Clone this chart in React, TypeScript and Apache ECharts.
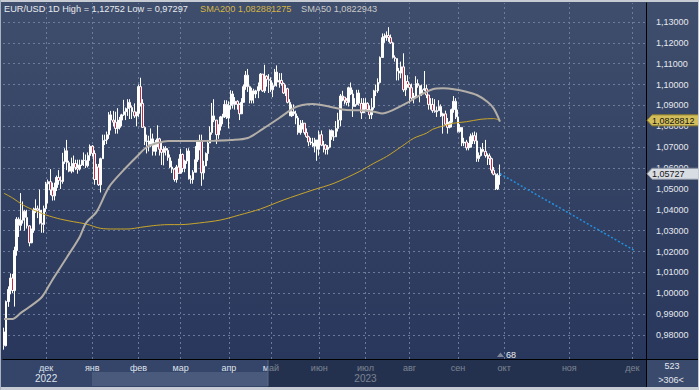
import { useEffect, useRef } from 'react';
import * as echarts from 'echarts';

// ---------- DATA ----------
const MONTH_NAMES = ['янв', 'фев', 'мар', 'апр', 'май', 'июн', 'июл', 'авг', 'сен', 'окт', 'ноя', 'дек'];
const SYMBOL = 'EUR/USD';
const PERIOD = '1D';

// daily bars [open, high, low, close], one array per month (weekdays)
const nov22 = [
  [0.9815, 0.9835, 0.97297, 0.9749], [0.9749, 0.9965, 0.9745, 0.996], [0.996, 1.0033, 0.9935, 1.0018],
  [1.0018, 1.0095, 0.9995, 1.0073], [1.0073, 1.0093, 1.0, 1.0013], [1.0013, 1.0223, 0.9936, 1.0205],
  [1.0205, 1.0365, 1.018, 1.0355], [1.0355, 1.0364, 1.027, 1.0325], [1.0325, 1.048, 1.03, 1.035],
  [1.035, 1.044, 1.0334, 1.0393], [1.0393, 1.04, 1.03, 1.0363], [1.0363, 1.04, 1.031, 1.0323],
  [1.0323, 1.0325, 1.0225, 1.0242], [1.0242, 1.031, 1.024, 1.0302], [1.0302, 1.041, 1.029, 1.0397],
  [1.0397, 1.045, 1.0385, 1.0405], [1.0405, 1.042, 1.036, 1.0398], [1.0398, 1.0497, 1.033, 1.0336],
  [1.0336, 1.04, 1.029, 1.033], [1.033, 1.042, 1.029, 1.0406],
];
const dec22 = [
  [1.0406, 1.0534, 1.039, 1.0524], [1.0524, 1.0545, 1.043, 1.0535], [1.0535, 1.0595, 1.047, 1.0495],
  [1.0495, 1.053, 1.0444, 1.0467], [1.0467, 1.053, 1.0445, 1.0507], [1.0507, 1.0564, 1.049, 1.0555],
  [1.0555, 1.059, 1.052, 1.054], [1.054, 1.056, 1.05, 1.0536], [1.0536, 1.0673, 1.0525, 1.063],
  [1.063, 1.0695, 1.062, 1.0683], [1.0683, 1.0735, 1.059, 1.0626], [1.0626, 1.0635, 1.058, 1.0585],
  [1.0585, 1.065, 1.0575, 1.0607], [1.0607, 1.066, 1.058, 1.0622], [1.0622, 1.064, 1.059, 1.0603],
  [1.0603, 1.064, 1.0573, 1.0595], [1.0595, 1.064, 1.0588, 1.0615], [1.0615, 1.064, 1.061, 1.0637],
  [1.0637, 1.0675, 1.061, 1.0636], [1.0636, 1.0665, 1.06, 1.0611], [1.0611, 1.0675, 1.0603, 1.066],
  [1.066, 1.0713, 1.0635, 1.0705],
];
const jan23 = [
  [1.0705, 1.071, 1.0655, 1.067], [1.067, 1.0685, 1.052, 1.0545], [1.0545, 1.062, 1.0545, 1.0605],
  [1.0605, 1.062, 1.0515, 1.052], [1.052, 1.065, 1.0483, 1.0645], [1.0645, 1.076, 1.0645, 1.0732],
  [1.0732, 1.076, 1.071, 1.0735], [1.0735, 1.0775, 1.0715, 1.076], [1.076, 1.0868, 1.074, 1.0855],
  [1.0855, 1.0874, 1.078, 1.083], [1.083, 1.0874, 1.08, 1.082], [1.082, 1.087, 1.0765, 1.079],
  [1.079, 1.0887, 1.0765, 1.0795], [1.0795, 1.0845, 1.0785, 1.083], [1.083, 1.086, 1.08, 1.0855],
  [1.0855, 1.0927, 1.085, 1.087], [1.087, 1.089, 1.083, 1.0885], [1.0885, 1.093, 1.085, 1.0915],
  [1.0915, 1.093, 1.0835, 1.089], [1.089, 1.09, 1.0835, 1.087], [1.087, 1.091, 1.084, 1.085],
  [1.085, 1.087, 1.08, 1.0862],
];
const feb23 = [
  [1.0862, 1.1, 1.0845, 1.099], [1.099, 1.1033, 1.0895, 1.091], [1.091, 1.093, 1.0795, 1.0795],
  [1.0795, 1.08, 1.071, 1.0727], [1.0727, 1.076, 1.067, 1.073], [1.073, 1.0755, 1.068, 1.0713],
  [1.0713, 1.079, 1.07, 1.074], [1.074, 1.0765, 1.066, 1.068], [1.068, 1.0735, 1.066, 1.0722],
  [1.0722, 1.0805, 1.07, 1.074], [1.074, 1.0745, 1.066, 1.069], [1.069, 1.072, 1.0615, 1.0675],
  [1.0675, 1.0705, 1.0613, 1.0695], [1.0695, 1.0705, 1.066, 1.0685], [1.0685, 1.0695, 1.0635, 1.065],
  [1.065, 1.0665, 1.06, 1.0605], [1.0605, 1.0635, 1.0576, 1.0595], [1.0595, 1.06, 1.0535, 1.0545],
  [1.0545, 1.0615, 1.053, 1.0605], [1.0605, 1.0645, 1.0575, 1.0575],
];
const mar23 = [
  [1.0575, 1.0691, 1.0575, 1.0665], [1.0665, 1.067, 1.058, 1.0598], [1.0598, 1.064, 1.058, 1.0634],
  [1.0634, 1.0695, 1.062, 1.0682], [1.0682, 1.0695, 1.0545, 1.0548], [1.0548, 1.0565, 1.0525, 1.0545],
  [1.0545, 1.059, 1.0525, 1.058], [1.058, 1.0705, 1.058, 1.064], [1.064, 1.0735, 1.063, 1.073],
  [1.073, 1.076, 1.0685, 1.073], [1.073, 1.076, 1.0515, 1.0577], [1.0577, 1.0635, 1.0545, 1.061],
  [1.061, 1.0675, 1.061, 1.067], [1.067, 1.0735, 1.0635, 1.072], [1.072, 1.08, 1.072, 1.077],
  [1.077, 1.0912, 1.076, 1.085], [1.085, 1.093, 1.082, 1.083], [1.083, 1.083, 1.0715, 1.076],
  [1.076, 1.081, 1.074, 1.08], [1.08, 1.085, 1.078, 1.0845], [1.0845, 1.086, 1.081, 1.0845],
  [1.0845, 1.0925, 1.084, 1.0905], [1.0905, 1.0925, 1.0835, 1.084],
];
const apr23 = [
  [1.084, 1.092, 1.079, 1.09], [1.09, 1.0973, 1.088, 1.0955], [1.0955, 1.097, 1.0885, 1.0905],
  [1.0905, 1.094, 1.088, 1.092], [1.092, 1.0925, 1.088, 1.0905], [1.0905, 1.091, 1.083, 1.086],
  [1.086, 1.0935, 1.086, 1.0915], [1.0915, 1.1, 1.0915, 1.099], [1.099, 1.1065, 1.0975, 1.1045],
  [1.1045, 1.1075, 1.0965, 1.099], [1.099, 1.0995, 1.091, 1.0925], [1.0925, 1.0985, 1.091, 1.097],
  [1.097, 1.098, 1.091, 1.0955], [1.0955, 1.0975, 1.0935, 1.097], [1.097, 1.101, 1.0935, 1.099],
  [1.099, 1.1055, 1.0975, 1.105], [1.105, 1.105, 1.0965, 1.097], [1.097, 1.1095, 1.096, 1.104],
  [1.104, 1.1045, 1.099, 1.1025], [1.1025, 1.105, 1.096, 1.102],
];
const may23 = [
  [1.102, 1.1035, 1.0965, 1.0975], [1.0975, 1.101, 1.094, 1.0995], [1.0995, 1.1075, 1.099, 1.106],
  [1.106, 1.1092, 1.099, 1.1012], [1.1012, 1.1055, 1.0985, 1.102], [1.102, 1.1055, 1.0995, 1.1005],
  [1.1005, 1.101, 1.0955, 1.096], [1.096, 1.1, 1.0945, 1.098], [1.098, 1.0985, 1.091, 1.0915],
  [1.0915, 1.093, 1.085, 1.085], [1.085, 1.0905, 1.0845, 1.087], [1.087, 1.0905, 1.085, 1.086],
  [1.086, 1.0875, 1.081, 1.084], [1.084, 1.085, 1.076, 1.077], [1.077, 1.083, 1.076, 1.0805],
  [1.0805, 1.083, 1.0785, 1.0815], [1.0815, 1.0815, 1.076, 1.077], [1.077, 1.079, 1.0745, 1.075],
  [1.075, 1.0755, 1.0705, 1.0725], [1.0725, 1.0745, 1.071, 1.072], [1.072, 1.0745, 1.07, 1.0705],
  [1.0705, 1.0745, 1.0675, 1.0735], [1.0735, 1.0735, 1.0635, 1.069],
];
const jun23 = [
  [1.069, 1.078, 1.066, 1.076], [1.076, 1.078, 1.0705, 1.071], [1.071, 1.073, 1.0675, 1.071],
  [1.071, 1.0715, 1.0665, 1.069], [1.069, 1.071, 1.0665, 1.07], [1.07, 1.0785, 1.0695, 1.078],
  [1.078, 1.0785, 1.0735, 1.075], [1.075, 1.078, 1.073, 1.075], [1.075, 1.0825, 1.075, 1.079],
  [1.079, 1.0865, 1.0775, 1.083], [1.083, 1.0955, 1.08, 1.0945], [1.0945, 1.097, 1.092, 1.094],
  [1.094, 1.094, 1.0905, 1.0925], [1.0925, 1.0935, 1.09, 1.0915], [1.0915, 1.099, 1.0895, 1.0985],
  [1.0985, 1.101, 1.095, 1.0955], [1.0955, 1.0975, 1.0845, 1.0895], [1.0895, 1.0935, 1.0895, 1.0905],
  [1.0905, 1.0975, 1.09, 1.096], [1.096, 1.0975, 1.09, 1.091], [1.091, 1.0935, 1.0835, 1.0865],
  [1.0865, 1.0935, 1.0865, 1.091],
];
const jul23 = [
  [1.091, 1.0935, 1.088, 1.091], [1.091, 1.0915, 1.0875, 1.088], [1.088, 1.09, 1.0835, 1.0855],
  [1.0855, 1.0935, 1.0835, 1.089], [1.089, 1.0975, 1.088, 1.097], [1.097, 1.1, 1.0945, 1.097],
  [1.097, 1.103, 1.096, 1.101], [1.101, 1.1135, 1.1005, 1.113], [1.113, 1.1245, 1.113, 1.1225],
  [1.1225, 1.1245, 1.12, 1.123], [1.123, 1.1255, 1.121, 1.1235], [1.1235, 1.12752, 1.1205, 1.1225],
  [1.1225, 1.124, 1.1195, 1.12], [1.12, 1.1205, 1.1125, 1.113], [1.113, 1.114, 1.111, 1.1125],
  [1.1125, 1.1125, 1.102, 1.1065], [1.1065, 1.108, 1.102, 1.1055], [1.1055, 1.111, 1.103, 1.1085],
  [1.1085, 1.115, 1.0965, 1.0975], [1.0975, 1.1045, 1.0945, 1.1015], [1.1015, 1.1045, 1.0985, 1.1],
];
const aug23 = [
  [1.1, 1.1005, 1.091, 1.0985], [1.0985, 1.1005, 1.0925, 1.0935], [1.0935, 1.096, 1.091, 1.0945],
  [1.0945, 1.104, 1.094, 1.1005], [1.1005, 1.1025, 1.0985, 1.0995], [1.0995, 1.0995, 1.0915, 1.0955],
  [1.0955, 1.1, 1.0945, 1.0975], [1.0975, 1.1065, 1.097, 1.098], [1.098, 1.1, 1.0935, 1.095],
  [1.095, 1.095, 1.088, 1.0905], [1.0905, 1.0935, 1.088, 1.0905], [1.0905, 1.0935, 1.0865, 1.0875],
  [1.0875, 1.093, 1.0865, 1.087], [1.087, 1.0895, 1.0845, 1.0875], [1.0875, 1.0925, 1.0875, 1.0895],
  [1.0895, 1.0905, 1.0845, 1.085], [1.085, 1.0865, 1.0765, 1.086], [1.086, 1.0875, 1.0805, 1.081],
  [1.081, 1.084, 1.0765, 1.0795], [1.0795, 1.0825, 1.079, 1.082], [1.082, 1.0885, 1.0795, 1.088],
  [1.088, 1.0945, 1.0865, 1.092], [1.092, 1.0935, 1.0835, 1.0845],
];
const sep23 = [
  [1.0845, 1.088, 1.077, 1.0775], [1.0775, 1.081, 1.077, 1.0795], [1.0795, 1.0795, 1.0705, 1.072],
  [1.072, 1.0745, 1.0705, 1.0725], [1.0725, 1.0735, 1.0685, 1.0697], [1.0697, 1.072, 1.0685, 1.07],
  [1.07, 1.0765, 1.07, 1.075], [1.075, 1.077, 1.0715, 1.0755], [1.0755, 1.0775, 1.0715, 1.073],
  [1.073, 1.077, 1.063, 1.0645], [1.0645, 1.0675, 1.063, 1.066], [1.066, 1.07, 1.0655, 1.069],
  [1.069, 1.072, 1.0675, 1.068], [1.068, 1.0735, 1.065, 1.066], [1.066, 1.067, 1.0615, 1.0658],
  [1.0658, 1.067, 1.0615, 1.0645], [1.0645, 1.065, 1.0575, 1.059], [1.059, 1.0605, 1.0565, 1.057],
  [1.057, 1.0575, 1.0495, 1.05], [1.05, 1.0575, 1.0495, 1.0565], [1.0565, 1.0617, 1.052, 1.05727],
];
const barMonths = [nov22, dec22, jan23, feb23, mar23, apr23, may23, jun23, jul23, aug23, sep23];

// moving averages: [date, value]
const sma200Points: [string, number][] = [
  ['2022-11-03', 1.0479], ['2022-11-09', 1.0457], ['2022-11-16', 1.0423], ['2022-11-23', 1.0399],
  ['2022-12-01', 1.0375], ['2022-12-12', 1.0355], ['2022-12-20', 1.0343], ['2022-12-28', 1.0332],
  ['2023-01-06', 1.0311], ['2023-01-16', 1.0308], ['2023-01-25', 1.0308], ['2023-02-02', 1.0316],
  ['2023-02-10', 1.0324], ['2023-02-21', 1.0329], ['2023-03-01', 1.0329], ['2023-03-14', 1.0337],
  ['2023-03-28', 1.0351], ['2023-04-10', 1.0375], ['2023-04-24', 1.0404], ['2023-05-09', 1.0447],
  ['2023-05-29', 1.0495], ['2023-06-12', 1.0527], ['2023-06-28', 1.0583], ['2023-07-07', 1.0623],
  ['2023-07-17', 1.0655], ['2023-07-26', 1.0702], ['2023-08-03', 1.0743], ['2023-08-11', 1.0767],
  ['2023-08-16', 1.0786], ['2023-08-23', 1.0802], ['2023-08-30', 1.0815], ['2023-09-07', 1.0822],
  ['2023-09-18', 1.0834], ['2023-09-26', 1.0837], ['2023-09-29', 1.082881275],
];
const sma50Points: [string, number][] = [
  ['2022-11-03', 0.9877], ['2022-11-09', 0.9877], ['2022-11-15', 0.9906], ['2022-11-21', 0.9934],
  ['2022-11-29', 0.9982], ['2022-12-06', 1.0064], ['2022-12-15', 1.0174], ['2022-12-23', 1.027],
  ['2022-12-28', 1.0337], ['2023-01-04', 1.039], ['2023-01-12', 1.051], ['2023-01-23', 1.0591],
  ['2023-01-31', 1.0653], ['2023-02-07', 1.0701], ['2023-02-14', 1.072], ['2023-02-21', 1.073],
  ['2023-03-01', 1.073], ['2023-03-23', 1.0731], ['2023-04-04', 1.0734], ['2023-04-14', 1.0744],
  ['2023-04-25', 1.0787], ['2023-05-05', 1.084], ['2023-05-16', 1.0888], ['2023-05-22', 1.0902],
  ['2023-05-29', 1.0907], ['2023-06-08', 1.0894], ['2023-06-20', 1.0878], ['2023-06-28', 1.0877],
  ['2023-07-07', 1.087], ['2023-07-13', 1.0862], ['2023-07-20', 1.0878], ['2023-07-31', 1.0913],
  ['2023-08-08', 1.095], ['2023-08-16', 1.0978], ['2023-08-23', 1.0982], ['2023-08-30', 1.0978],
  ['2023-09-07', 1.0966], ['2023-09-14', 1.095], ['2023-09-21', 1.0918], ['2023-09-26', 1.0886],
  ['2023-09-29', 1.0822943],
];
const trendPoints: [string, number][] = [['2023-09-29', 1.05727], ['2023-12-02', 1.0205]];

const priceTicks = [0.98, 0.99, 1.0, 1.01, 1.02, 1.03, 1.04, 1.05, 1.06, 1.07, 1.08, 1.09, 1.1, 1.11, 1.12, 1.13];
const yearMarks: [string, string][] = [['2022-12-01', '2022'], ['2023-07-03', '2023']];
const barCountText = '523';
const visibleBarsText = '>306<';
const markerText = '68';

// ---------- helpers ----------
const iso = (d: Date) => d.toISOString().slice(0, 10);
function buildDates(): string[] {
  const out: string[] = [];
  const d = new Date(Date.UTC(2022, 10, 3));
  const histEnd = Date.UTC(2023, 8, 29);
  const end = Date.UTC(2023, 11, 7);
  while (d.getTime() <= end) {
    const wd = d.getUTCDay();
    if (d.getTime() > histEnd || (wd !== 0 && wd !== 6)) out.push(iso(d));
    d.setUTCDate(d.getUTCDate() + 1);
  }
  return out;
}
const fmt = (v: number, dec: number) => v.toFixed(dec).replace('.', ',');

const FONT = 'Liberation Sans';

export default function App() {
  const ref = useRef<HTMLDivElement>(null);
  useEffect(() => {
    const el = ref.current;
    if (!el) return;
    const chart = echarts.init(el, undefined, { renderer: 'svg' });

    const dates = buildDates();
    const bars = barMonths.flat();
    const candleData = bars.map((b) => [b[0], b[3], b[2], b[1]]);
    const idx = (d: string) => dates.indexOf(d);
    const monthStarts: number[] = [];
    for (let i = 1; i < dates.length; i++) {
      if (dates[i].slice(5, 7) !== dates[i - 1].slice(5, 7)) monthStarts.push(i);
    }
    const monthSet = new Set(monthStarts);
    const yearMap = new Map(yearMarks);

    const hi = Math.max(...bars.map((b) => b[1]));
    const lo = Math.min(...bars.map((b) => b[2]));
    const sma200Last = sma200Points[sma200Points.length - 1][1];
    const sma50Last = sma50Points[sma50Points.length - 1][1];
    const lastClose = bars[bars.length - 1][3];

    const lineColor = '#e4e8ef';

    chart.setOption({
      animation: false,
      backgroundColor: new echarts.graphic.LinearGradient(0, 0, 0, 1, [
        { offset: 0, color: '#3f4e6c' },
        { offset: 1, color: '#26355a' },
      ]),
      grid: { left: 3, right: 53, top: 3, bottom: 31, containLabel: false },
      xAxis: {
        type: 'category',
        data: dates,
        boundaryGap: true,
        z: 10,
        axisLine: { show: true, lineStyle: { color: '#000', width: 1 } },
        axisTick: { show: false },
        splitLine: { show: false },
        axisLabel: {
          interval: (i: number) => monthSet.has(i),
          margin: 3,
          formatter: (v: string, i: number) => {
            if (!monthSet.has(i)) return '';
            const m = MONTH_NAMES[parseInt(v.slice(5, 7), 10) - 1];
            const y = yearMap.get(v);
            return y ? `{m|${m}}\n{y|${y}}` : `{m|${m}}`;
          },
          rich: {
            m: { fontSize: 9, lineHeight: 11, color: '#dfe3eb', fontFamily: FONT },
            y: { fontSize: 10, lineHeight: 11, color: '#dfe3eb', fontFamily: FONT },
          },
        },
      },
      yAxis: {
        type: 'value',
        position: 'right',
        min: 0.9685,
        max: 1.1391,
        splitNumber: 17,
        minInterval: 0.01,
        maxInterval: 0.01,
        axisLine: { show: true, lineStyle: { color: '#000', width: 1 } },
        axisTick: { show: false },
        splitLine: { show: false },
        axisLabel: {
          margin: 10,
          fontSize: 9,
          fontFamily: FONT,
          color: lineColor,
          formatter: (v: number) => (priceTicks.some((t) => Math.abs(t - v) < 1e-6) ? fmt(v, 5) : ''),
        },
      },
      series: [
        {
          type: 'line',
          name: 'grid',
          data: [],
          z: 1,
          silent: true,
          markLine: {
            z: 1,
            silent: true,
            symbol: ['none', 'none'],
            label: { show: false },
            lineStyle: { color: '#7585a3', type: [2, 3], width: 1, opacity: 0.85 },
            emphasis: { disabled: true },
            data: [
              ...priceTicks.map((v) => ({ yAxis: v })),
              ...monthStarts.map((i) => ({ xAxis: i })),
            ],
          },
        },
        {
          type: 'candlestick',
          data: candleData,
          barWidth: 2,
          z: 6,
          itemStyle: {
            color: '#ffffff',
            color0: '#c22a45',
            borderColor: '#ffffff',
            borderColor0: '#ffffff',
            borderWidth: 1,
          },
        },
        {
          type: 'line',
          name: 'SMA200',
          data: sma200Points.map(([d, v]) => [idx(d), v]),
          showSymbol: false,
          smooth: 0.3,
          z: 7,
          lineStyle: { color: '#c9a52a', width: 1 },
        },
        {
          type: 'line',
          name: 'SMA50',
          data: sma50Points.map(([d, v]) => [idx(d), v]),
          showSymbol: false,
          smooth: 0.3,
          z: 7,
          lineStyle: { color: '#b3aea8', width: 2 },
        },
        {
          type: 'line',
          name: 'trend',
          data: trendPoints.map(([d, v]) => [idx(d), v]),
          showSymbol: false,
          z: 7,
          lineStyle: { color: '#2290e0', width: 1.5, type: [2, 2] },
        },
      ],
    });

    const ySma = chart.convertToPixel({ yAxisIndex: 0 }, sma200Last) as number;
    const yClose = chart.convertToPixel({ yAxisIndex: 0 }, lastClose) as number;
    const txt = (id: string, x: number, y: number, text: string, fill: string, size = 9, align = 'left') => ({
      type: 'text',
      id,
      x,
      y,
      z: 40,
      silent: true,
      style: {
        text,
        fill,
        fontSize: size,
        fontFamily: FONT,
        textAlign: align,
        align,
        textVerticalAlign: 'middle',
        verticalAlign: 'middle',
      },
    });
    const tag = (id: string, y: number, fill: string, stroke: string, text: string) => [
      {
        type: 'polygon',
        id: id + 'b',
        z: 40,
        silent: true,
        shape: { points: [[647, y], [652, y - 5.5], [699, y - 5.5], [699, y + 5.5], [652, y + 5.5]] },
        style: { fill, stroke, lineWidth: 1 },
      },
      txt(id + 't', 652, y + 0.5, text, '#151515', 9),
    ];

    chart.setOption({
      graphic: [
        { type: 'rect', id: 'band', z: 1, silent: true, shape: { x: 0, y: 360, width: 646, height: 27 }, style: { fill: '#35456a' } },
        { type: 'rect', id: 'thumb', z: 2, silent: true, shape: { x: 92, y: 372, width: 176, height: 14 }, style: { fill: '#4a5a7c' } },
        { type: 'rect', id: 'shade', z: 20, silent: true, shape: { x: 268, y: 360, width: 378, height: 27 }, style: { fill: 'rgba(20,29,50,0.5)' } },
        { type: 'line', id: 'shadeEdge', z: 21, silent: true, shape: { x1: 268, y1: 360, x2: 268, y2: 386 }, style: { stroke: '#5a6886', lineWidth: 1 } },
        { type: 'rect', id: 'corner', z: 1, silent: true, shape: { x: 647, y: 360, width: 52, height: 27 }, style: { fill: '#3a4a6c' } },
        { type: 'line', id: 'vline', z: 21, silent: true, shape: { x1: 646.5, y1: 359, x2: 646.5, y2: 388 }, style: { stroke: '#000', lineWidth: 1 } },
        { type: 'line', id: 'hline', z: 21, silent: true, shape: { x1: 646, y1: 359.5, x2: 699, y2: 359.5 }, style: { stroke: '#000', lineWidth: 1 } },
        { type: 'rect', id: 'fTop', z: 45, silent: true, shape: { x: 0, y: 0, width: 699, height: 2 }, style: { fill: '#c6cbd4' } },
        { type: 'rect', id: 'fBot', z: 45, silent: true, shape: { x: 0, y: 387, width: 699, height: 3 }, style: { fill: '#c6cbd4' } },
        { type: 'rect', id: 'fLeft', z: 45, silent: true, shape: { x: 0, y: 0, width: 1, height: 390 }, style: { fill: '#aab2c2' } },
        { type: 'rect', id: 'fRight', z: 45, silent: true, shape: { x: 698, y: 0, width: 1, height: 390 }, style: { fill: '#c6cbd4' } },
        txt('title', 4, 9, `${SYMBOL} ${PERIOD} High = ${fmt(hi, 5)} Low = ${fmt(lo, 5)}`, '#e8ebf0', 9.2),
        txt('sma200', 200, 9, `SMA200 ${String(sma200Last).replace('.', ',')}`, '#d6b545', 9.2),
        txt('sma50', 301, 9, `SMA50 ${String(sma50Last).replace('.', ',')}`, '#c9c9c9', 9.2),
        ...tag('tagSma', ySma, '#d2bf5c', '#8d7b2c', fmt(Math.floor(sma200Last * 1e7) / 1e7, 7)),
        ...tag('tagClose', yClose, '#d8dce3', '#8a92a2', fmt(lastClose, 5)),
        {
          type: 'polygon', id: 'mk', z: 40, silent: true,
          shape: { points: [[497, 357], [500.5, 352.5], [504, 357]] },
          style: { fill: '#7d879b' },
        },
        txt('mkt', 506, 355, markerText, '#e8ecf2', 9),
        txt('cnt', 672, 366, barCountText, '#e4e8ef', 9, 'center'),
        txt('vis', 671, 380, visibleBarsText, '#e4e8ef', 9, 'center'),
      ],
    });

    return () => chart.dispose();
  }, []);
  return <div ref={ref} style={{ position: 'fixed', left: 0, top: 0, width: 699, height: 390 }} />;
}
